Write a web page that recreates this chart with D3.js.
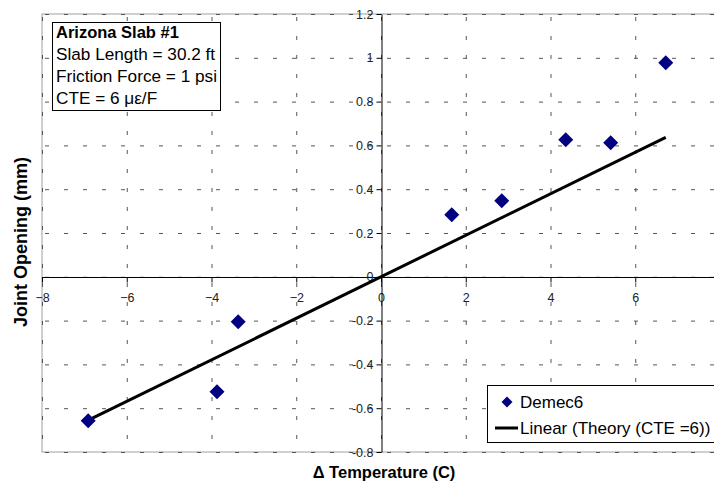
<!DOCTYPE html>
<html>
<head>
<meta charset="utf-8">
<script src="https://cdn.jsdelivr.net/npm/d3@7"></script>
<style>
  body { margin: 0; background: #fff; }
  svg { display: block; font-family: "Liberation Sans", Arial, sans-serif; }
</style>
</head>
<body>
<svg id="chart" width="714" height="483"></svg>
<script>
// Demec6 readings
const tempDelta = [-6.91, -3.87, -3.37, 1.67, 2.85, 4.36, 5.42, 6.72]
const jointOpening = [-0.657, -0.525, -0.205, 0.283, 0.347, 0.626, 0.612, 0.977]

// theory line (CTE = 6)
const theoryX = [-6.93, 6.72]
const theoryY = [-0.657, 0.637]

const xGrid = [-8, -6, -4, -2, 0, 2, 4, 6, 8]
const xTicks = [-8, -6, -4, -2, 0, 2, 4, 6]   // 8 sits past the right edge
const yTicks = [-0.8, -0.6, -0.4, -0.2, 0, 0.2, 0.4, 0.6, 0.8, 1, 1.2]

const infoLines = ["Slab Length = 30.2 ft", "Friction Force = 1 psi", "CTE = 6 \u03bc\u03b5/F"]

const svg = d3.select("#chart")
const plotL = 42, plotR = 720, plotT = 14, plotB = 452

const x = d3.scaleLinear().domain([-8, 8]).range([plotL, plotR])
const y = d3.scaleLinear().domain([-0.8, 1.2]).range([plotB, plotT])

// plot border
svg.append("rect")
  .attr("x", plotL).attr("y", plotT)
  .attr("width", plotR - plotL).attr("height", plotB - plotT)
  .attr("fill", "none").attr("stroke", "#a0a0a0")

// dashed grid
const grid = svg.append("g")
  .attr("stroke", "#555").attr("stroke-dasharray", "4,15")
grid.selectAll("line.h")
  .data(yTicks)
  .join("line")
  .attr("class", "h")
  .attr("x1", plotL + 3).attr("x2", plotR)
  .attr("y1", d => y(d) + 0.5).attr("y2", d => y(d) + 0.5)
grid.selectAll("line.v")
  .data(xGrid)
  .join("line")
  .attr("class", "v")
  .attr("y1", plotT + 3).attr("y2", plotB)
  .attr("x1", d => x(d) + 0.5).attr("x2", d => x(d) + 0.5)

// axes through the origin
const xAxis = svg.append("g")
  .attr("transform", `translate(0,${Math.round(y(0)) + 0.5})`)
  .call(d3.axisBottom(x).tickValues(xTicks).tickSize(5).tickSizeOuter(0).tickPadding(11).tickFormat(d3.format("d")))
const yAxis = svg.append("g")
  .attr("transform", `translate(${Math.round(x(0)) + 0.5},0)`)
  .call(d3.axisLeft(y).tickValues(yTicks).tickSize(5).tickSizeOuter(0).tickPadding(3).tickFormat(d => String(+d.toFixed(1))))

;[xAxis, yAxis].forEach(g => {
  g.select(".domain").attr("stroke", "#000")
  g.selectAll(".tick line").attr("stroke", "#000")
  g.selectAll(".tick text")
    .attr("font-size", 12.5)
    .attr("font-family", "Liberation Sans, Arial, sans-serif")
    .attr("fill", "#222")
})
xAxis.select(".domain").attr("d", `M${plotL},0H${plotR}`)

// theory line
svg.append("path")
  .datum(d3.zip(theoryX, theoryY))
  .attr("fill", "none")
  .attr("stroke", "#000")
  .attr("stroke-width", 3)
  .attr("d", d3.line().x(d => x(d[0])).y(d => y(d[1])))

// measured points
const diamond = r => `M0,${-r}L${r},0L0,${r}L${-r},0Z`
svg.selectAll("path.pt")
  .data(d3.zip(tempDelta, jointOpening))
  .join("path")
  .attr("class", "pt")
  .attr("d", diamond(7.5))
  .attr("fill", "#000080")
  .attr("transform", d => `translate(${x(d[0])},${y(d[1])})`)

// info box
const info = svg.append("g")
info.append("rect")
  .attr("x", 52.5).attr("y", 22.5).attr("width", 168).attr("height", 88)
  .attr("fill", "#fff").attr("stroke", "#000")
info.append("text")
  .attr("x", 56).attr("y", 38)
  .attr("font-size", 16.5).attr("font-weight", "bold")
  .text("Arizona Slab #1")
info.selectAll("text.l")
  .data(infoLines)
  .join("text")
  .attr("class", "l")
  .attr("x", 56).attr("y", (d, i) => 60 + i * 22)
  .attr("font-size", 17.2)
  .text(d => d)

// legend
const legend = svg.append("g")
legend.append("rect")
  .attr("x", 487.5).attr("y", 385.5).attr("width", 240).attr("height", 57)
  .attr("fill", "#fff").attr("stroke", "#000")
legend.append("path")
  .attr("d", diamond(5.5))
  .attr("fill", "#000080")
  .attr("transform", "translate(507,402)")
legend.append("line")
  .attr("x1", 495).attr("x2", 518).attr("y1", 428).attr("y2", 428)
  .attr("stroke", "#000").attr("stroke-width", 3)
legend.append("text")
  .attr("x", 520).attr("y", 408).attr("font-size", 17).text("Demec6")
legend.append("text")
  .attr("x", 520).attr("y", 434).attr("font-size", 17).text("Linear (Theory (CTE =6))")

// axis titles
svg.append("text")
  .attr("x", 384).attr("y", 478)
  .attr("text-anchor", "middle")
  .attr("font-size", 16.5).attr("font-weight", "bold")
  .text("\u0394 Temperature (C)")
svg.append("text")
  .attr("transform", "translate(27,242) rotate(-90)")
  .attr("text-anchor", "middle")
  .attr("font-size", 18).attr("font-weight", "bold")
  .text("Joint Opening (mm)")
</script>
</body>
</html>
